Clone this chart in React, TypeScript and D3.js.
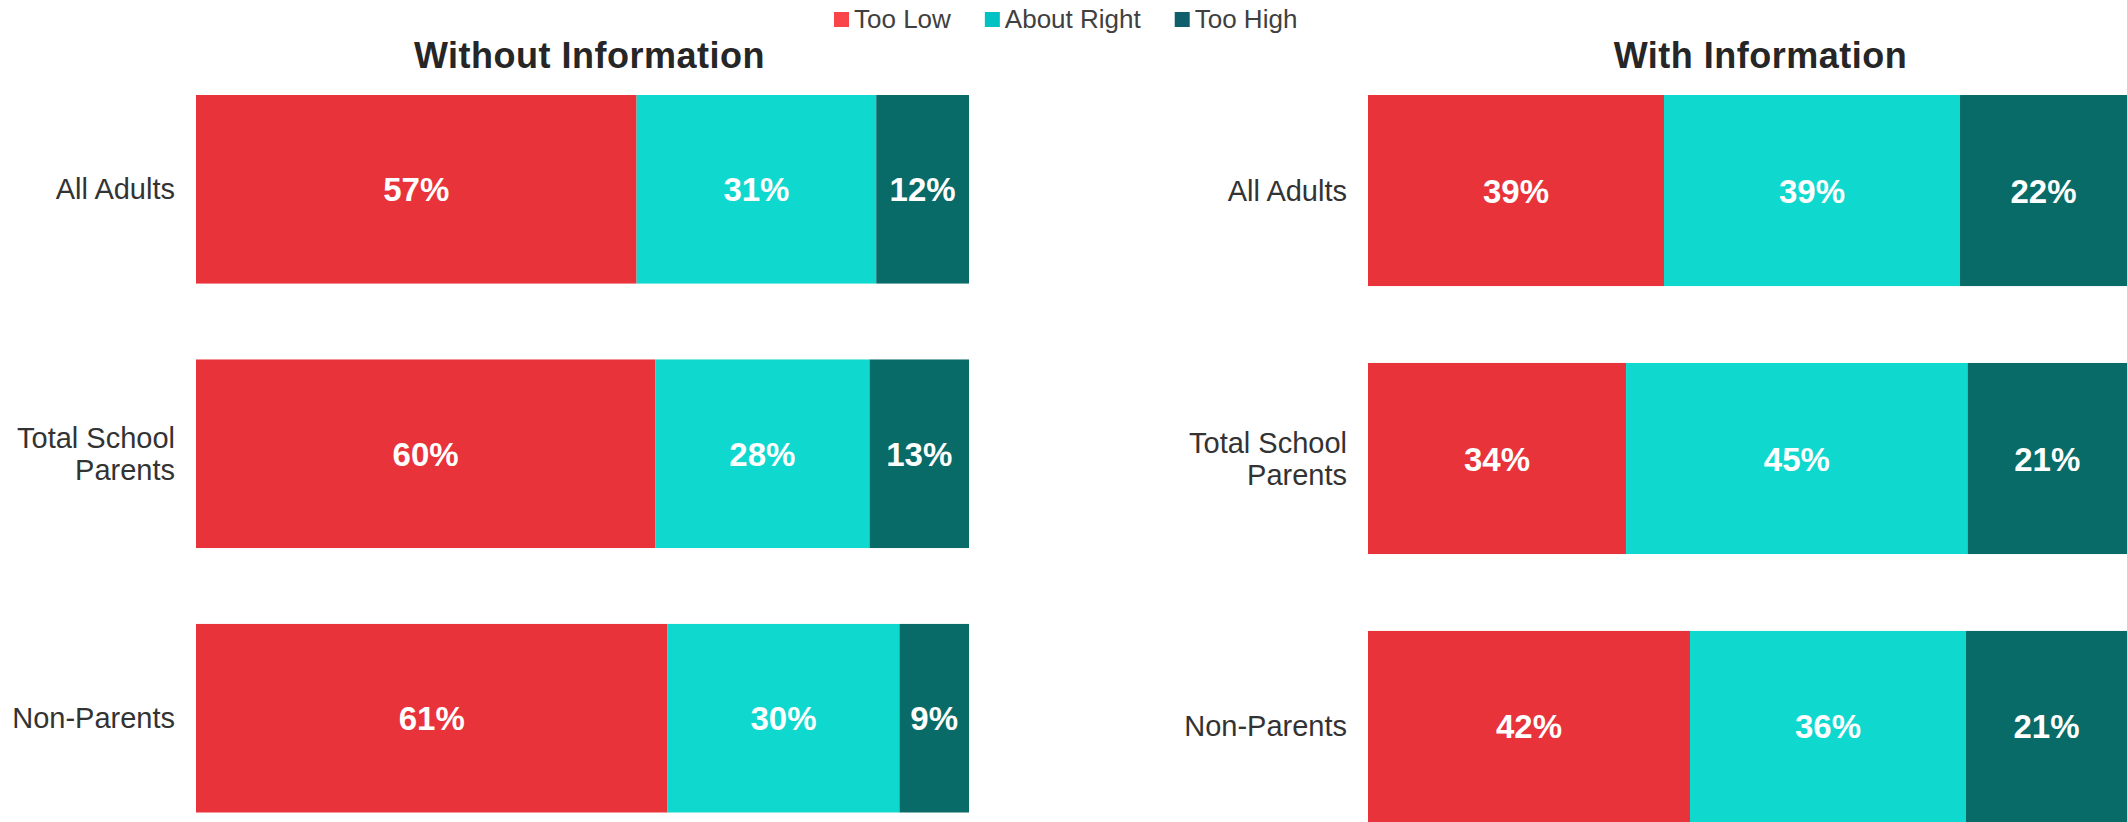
import { useEffect, useRef } from "react";
import * as d3 from "d3";

const categories = ["All Adults", "Total School Parents", "Non-Parents"];
const seriesNames = ["Too Low", "About Right", "Too High"];

// Without Information
const withoutTooLow = [57, 60, 61];
const withoutAboutRight = [31, 28, 30];
const withoutTooHigh = [12, 13, 9];

// With Information
const withTooLow = [39, 34, 42];
const withAboutRight = [39, 45, 36];
const withTooHigh = [22, 21, 21];

const barColors = ["#E8333A", "#0FD8CF", "#086B67"];
const legendColors = ["#F94449", "#00C2C2", "#0E5F6B"];

const W = 2127;
const H = 822;
const FONT = "'Liberation Sans', Arial, sans-serif";

const buildRows = (a: number[], b: number[], c: number[]) =>
  categories.map((cat, i) => ({ cat, "Too Low": a[i], "About Right": b[i], "Too High": c[i] }));

const panels = [
  { title: "Without Information", rows: buildRows(withoutTooLow, withoutAboutRight, withoutTooHigh), x0: 196, x1: 969, y1: 812.5, titleShift: 7 },
  { title: "With Information", rows: buildRows(withTooLow, withAboutRight, withTooHigh), x0: 1368, x1: 2127, y1: 822, titleShift: 13 },
];

export default function App() {
  const svgRef = useRef<SVGSVGElement>(null);

  useEffect(() => {
    const svg = d3.select(svgRef.current);
    svg.selectAll("*").remove();

    const stack = d3.stack<any>().keys(seriesNames).offset(d3.stackOffsetExpand);

    panels.forEach((p) => {
      const g = svg.append("g");
      const x = d3.scaleLinear().domain([0, 1]).range([p.x0, p.x1]);
      const y = d3.scaleBand().domain(categories).range([95, p.y1]).paddingInner(0.287).paddingOuter(0);
      const stacked = stack(p.rows);

      stacked.forEach((layer, si) => {
        const lg = g.append("g");
        lg.selectAll("rect")
          .data(layer)
          .enter()
          .append("rect")
          .attr("x", (d) => x(d[0]))
          .attr("y", (d: any) => y(d.data.cat)!)
          .attr("width", (d) => x(d[1]) - x(d[0]))
          .attr("height", y.bandwidth())
          .attr("fill", barColors[si]);

        lg.selectAll("text")
          .data(layer)
          .enter()
          .append("text")
          .attr("x", (d) => (x(d[0]) + x(d[1])) / 2)
          .attr("y", (d: any) => y(d.data.cat)! + y.bandwidth() / 2 + 12)
          .attr("text-anchor", "middle")
          .attr("font-family", FONT)
          .attr("font-weight", "bold")
          .attr("font-size", 33)
          .attr("fill", "#ffffff")
          .text((d: any) => d.data[seriesNames[si]] + "%");
      });

      // category labels, wrapped like the original
      categories.forEach((cat) => {
        const lines = cat === "Total School Parents" ? ["Total School", "Parents"] : [cat];
        const cy = y(cat)! + y.bandwidth() / 2;
        const lh = 32;
        const t = g.append("text")
          .attr("text-anchor", "end")
          .attr("font-family", FONT)
          .attr("font-size", 29)
          .attr("fill", "#333333");
        lines.forEach((ln, i) => {
          t.append("tspan")
            .attr("x", p.x0 - 21)
            .attr("y", cy + 10 - ((lines.length - 1) * lh) / 2 + i * lh)
            .text(ln);
        });
      });

      g.append("text")
        .attr("x", (p.x0 + p.x1) / 2 + p.titleShift)
        .attr("y", 68)
        .attr("text-anchor", "middle")
        .attr("font-family", FONT)
        .attr("font-weight", "bold")
        .attr("font-size", 36)
        .attr("letter-spacing", 0.5)
        .attr("fill", "#262626")
        .text(p.title);
    });

    // legend
    const legend = svg.append("g");
    const items = legend.selectAll("g")
      .data(seriesNames)
      .enter()
      .append("g");
    items.append("rect")
      .attr("width", 15)
      .attr("height", 15)
      .attr("y", 12)
      .attr("fill", (d, i) => legendColors[i]);
    items.append("text")
      .attr("x", 20)
      .attr("y", 28)
      .attr("font-family", FONT)
      .attr("font-size", 26)
      .attr("fill", "#404040")
      .text((d) => d);
    let cx = 834;
    items.each(function () {
      const node = d3.select(this);
      node.attr("transform", `translate(${cx},0)`);
      const tw = (node.select("text").node() as SVGTextElement).getComputedTextLength();
      cx += 20 + tw + 34;
    });
  }, []);

  return (
    <svg
      ref={svgRef}
      width={W}
      height={H}
      style={{ position: "absolute", left: 0, top: 0, background: "#ffffff", display: "block" }}
    />
  );
}
